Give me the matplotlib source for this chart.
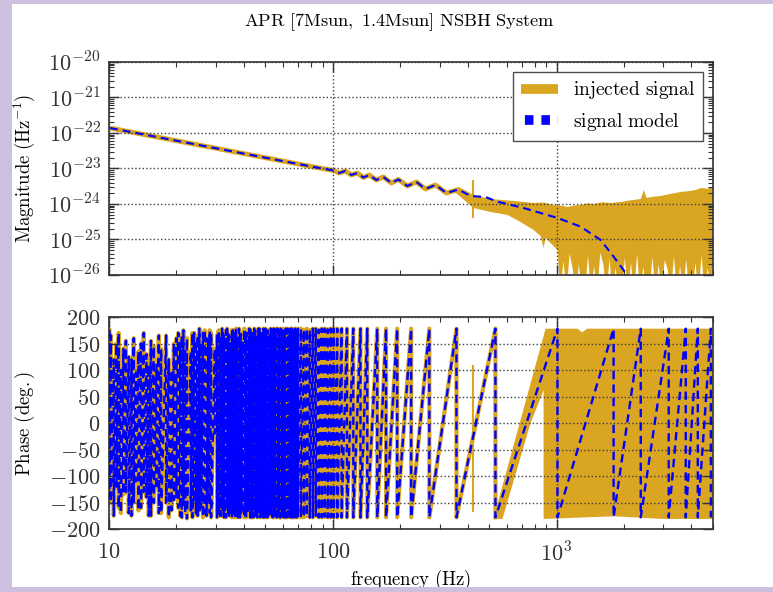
"""APR [7Msun, 1.4Msun] NSBH system: injected signal vs signal model (magnitude + phase)."""

import numpy as np
import matplotlib
matplotlib.use("Agg")
import matplotlib.pyplot as plt
from matplotlib.lines import Line2D
from matplotlib.patches import Rectangle
from matplotlib.ticker import FixedLocator, FuncFormatter, LogLocator, NullFormatter, MultipleLocator

plt.rcParams["mathtext.fontset"] = "cm"

GOLD = "goldenrod"
BLUE = "blue"
LAVENDER = "#cdc0de"

# ---- magnitude, signal model (Hz, 1/Hz)
model_f = [10.1, 80.0, 100.5, 107, 113.7, 121, 128.8, 136.9, 145.6, 156.5, 168.2, 182.7, 196.4,
           215.4, 236.4, 259.4, 287.5, 322, 364.3, 412.3, 481.3, 544.5, 711.8, 1010, 1281, 1574,
           1799, 2035, 2200]
model_mag = [1.38e-22, 1.14e-23, 8.79e-24, 7.46e-24, 8.51e-24, 6.56e-24, 7.46e-24, 5.57e-24, 6.56e-24,
             4.74e-24, 5.77e-24, 3.91e-24, 4.90e-24, 3.21e-24, 4.17e-24, 2.65e-24, 3.43e-24, 2.04e-24,
             2.56e-24, 1.68e-24, 1.57e-24, 1.16e-24, 7.71e-25, 4.04e-25, 2.30e-25, 9.68e-26, 3.27e-26,
             1.14e-26, 5.0e-27]
n_clean = 20  # injected == model up to ~410 Hz

# ---- magnitude, injected noise envelope above ~350 Hz
noise_up_f = [353, 425, 507, 643, 789, 880, 970, 1050, 1120, 1200, 1281, 1380, 1464, 1600, 1744,
              1934, 2100, 2376, 2451, 2527, 2700, 2920, 3200, 3586, 3900, 4188, 4409, 4700, 5000]
noise_up = [2.3e-24, 1.8e-24, 1.38e-24, 1.22e-24, 1.07e-24, 1.1e-24, 9.37e-25, 9.0e-25, 8.23e-25,
            9.0e-25, 9.37e-25, 1.05e-24, 1.0e-24, 1.12e-24, 1.07e-24, 1.14e-24, 1.25e-24, 1.38e-24,
            2.48e-24, 1.48e-24, 1.6e-24, 1.68e-24, 1.9e-24, 2.18e-24, 2.3e-24, 2.48e-24, 2.82e-24,
            2.7e-24, 3.01e-24]
noise_lo_f = [353, 425, 507, 604, 690, 789, 848, 875, 893, 959, 1010,
              1040, 1073, 1108, 1143, 1180, 1218, 1257, 1297, 1339, 1382, 1426, 1472, 1519, 1568,
              1618, 1670, 1724, 1779, 1836, 1895, 1956, 2019, 2083, 2150, 2219, 2290, 2364, 2439,
              2518, 2598, 2682, 2768, 2857, 2948, 3043, 3140, 3241, 3345, 3452, 3563, 3677, 3795,
              3917, 4042, 4172, 4306, 4444, 4586, 4733, 4885, 5000]
noise_lo = [2.1e-24, 7.71e-25, 5.95e-25, 4.90e-25, 3.11e-25, 1.85e-25, 1.26e-25, 5.77e-26, 1.10e-25,
            7.0e-26, 5.06e-26,
            3e-27, 2.5e-26, 3e-27, 4.0e-26, 1.5e-26, 3e-27, 2.0e-26, 3e-27, 3e-27, 3.5e-26, 3e-27,
            1.8e-26, 3e-27, 4.2e-26, 2.0e-26, 3e-27, 2.8e-26, 3e-27, 1.6e-26, 3e-27, 3e-27, 3.0e-26,
            3e-27, 2.2e-26, 3e-27, 4.0e-26, 3e-27, 1.7e-26, 3e-27, 3e-27, 3.2e-26, 3e-27, 2.0e-26,
            3e-27, 2.6e-26, 1.4e-26, 3e-27, 3.4e-26, 3e-27, 1.8e-26, 3e-27, 2.8e-26, 3e-27, 3e-27,
            2.2e-26, 3e-27, 3.6e-26, 3e-27, 1.6e-26, 3e-27, 2.5e-26]
spike_f = 421
spike_mag = [4.5e-24, 4.3e-25]
spike_phase = [107, -166]

# ---- phase, signal model: wrap frequencies (Hz) and the top/bottom value reached there (deg)
wrap_f_a = [10.05, 10.2, 10.5, 10.8, 11.05, 11.3, 11.6, 11.9, 12.25, 12.6, 12.9, 13.2, 13.55, 13.9,
            14.3, 14.7, 15.05, 15.4, 15.85, 16.3, 16.7, 17.1, 18.0, 18.5, 19.0, 19.5, 20.0]
top_a = [175, 165, 120, 150, 170, 100, 140, 155, 125, 120, 160, 95, 135, 150,
         170, 130, 110, 155, 145, 110, 165, 140, 165, 120, 100, 150, 160]
bot_a = [-140, -150, -175, -120, -160, -170, -135, -130, -170, -175, -150, -110, -165, -160,
         -130, -140, -175, -175, -150, -125, -170, -170, -150, -178, -165, -145, -140]

wrap_f_b = [20.4, 20.8, 21.15, 21.5, 21.9, 22.3, 23.2, 23.6, 24.0, 24.45, 24.9, 25.35, 25.8, 26.3,
            26.8, 27.3, 27.8, 28.2, 28.6]
top_b = [170, 150, 165, 175, 140, 160, 135, 170, 170, 155, 165, 178, 150, 170, 175, 160, 160, 175, 170]
bot_b = [-160, -175, -178, -155, -170, -180, -165, -178, -150, -170, -175, -165, -160, -178, -170,
         -175, -150, -170, -178]

wrap_f_c = [29.7, 30.4, 30.7, 31.0, 31.35, 31.7, 32.0, 32.3, 32.65, 33.0,
            33.35, 33.7, 34.05, 34.4, 34.75, 35.1, 35.45, 35.8, 36.2, 36.6,
            36.95, 37.3, 37.7, 38.1, 38.5, 38.9, 39.35, 39.8, 40.2, 40.6,
            41.0, 41.4, 41.85, 42.3, 42.75, 43.2, 43.65, 44.1, 44.55, 45.0,
            45.5, 46.0, 46.5, 47.0, 47.5, 48.0, 48.5, 49.0, 49.5, 50.0,
            50.55, 51.1, 51.65, 52.2, 52.75, 53.3, 53.85, 54.4, 54.95, 55.5,
            56.1, 56.7, 57.3, 57.9, 58.5, 59.1, 59.75, 60.4, 61.0, 61.6,
            62.25, 62.9, 63.55, 64.2, 64.9, 65.6, 66.3, 67.0, 67.7, 68.4,
            69.1, 69.8]
top_c = [140, 165, 172, 175, 160, 155, 178, 170, 165, 160,
         175, 178, 168, 165, 150, 150, 176, 175, 170, 170,
         178, 160, 165, 178, 172, 168, 150, 155, 178, 175,
         168, 170, 160, 178, 176, 165, 170, 172, 178, 175,
         165, 168, 178, 178, 170, 172, 160, 178, 175, 178,
         170, 175, 165, 165, 178, 176, 170, 178, 172, 175,
         178, 178, 170, 172, 178, 176, 178, 170, 175, 178,
         175, 178, 170, 176, 178, 178, 175, 170, 178, 178,
         172, 178]
bot_c = [-20, -178, -170, -165, -175, -175, -160, -170, -178, -170,
         -178, -160, -172, -175, -168, -170, -178, -165, -175, -178,
         -165, -175, -178, -172, -178, -170, -160, -165, -178, -175,
         -178, -172, -165, -170, -178, -178, -165, -178, -176, -170,
         -175, -178, -165, -168, -178, -175, -170, -178, -175, -178,
         -176, -178, -172, -176, -165, -170, -178, -176, -178, -175,
         -178, -170, -172, -178, -178, -175, -176, -178, -170, -178,
         -178, -176, -175, -178, -170, -178, -178, -175, -178, -176,
         -178, -176]

wrap_f_d = [72.0, 74.2, 76.5, 78.9, 81.4, 83.9, 86.5, 89.2, 92.0, 94.9, 97.9, 100.9]
top_d = [178, 176, 178, 175, 178, 178, 176, 178, 178, 177, 178, 178]
bot_d = [-178, -178, -176, -178, -178, -175, -178, -178, -177, -178, -178, -178]

wrap_f_e = [104.7, 109.5, 115.7, 123.5, 133.0, 142.6, 158.0, 173.0, 194.0, 224.0, 270.0, 357.0,
            533.0, 1009.0, 1798.0, 2377.0, 3170.0, 3777.0, 4275.0, 4890.0]
top_e = [178, 178, 178, 178, 178, 178, 178, 178, 178, 178, 178, 178, 178, 178, 178, 178, 178, 178,
         178, 178]
bot_e = [-178, -178, -178, -178, -178, -178, -178, -178, -178, -178, -178, -178, -178, -178, -178,
         -178, -178, -178, -178, -178]
inj_wrap_last = 533.0  # injected phase follows the model up to this wrap

# ---- phase, injected noise region (outline)
phase_noise_f = [522, 893, 1240, 1300, 1370, 2600, 5000, 5000, 3000, 1800, 875, 875, 765, 573]
phase_noise = [-181, 178, 178, 171, 178, 178, 178, -181, -181, -176, -181, 62, 0, -181]


def sawtooth(fw, top, bot):
    xs, ys = [], []
    for f, t, b in zip(fw, top, bot):
        xs += [f, f]
        ys += [t, b]
    return xs, ys


wrap_f = wrap_f_a + wrap_f_b + wrap_f_c + wrap_f_d + wrap_f_e
wrap_top = top_a + top_b + top_c + top_d + top_e
wrap_bot = bot_a + bot_b + bot_c + bot_d + bot_e

fig = plt.figure(figsize=(7.73, 5.92), dpi=100, facecolor=LAVENDER)
fig.patches.append(Rectangle((12 / 773, 5 / 592), 1, 583 / 592, transform=fig.transFigure,
                             facecolor="white", edgecolor="none", zorder=-10))
# screenshot border cuts the bottom of the x label, as in the source
fig.patches.append(Rectangle((0, 0), 1, 5 / 592, transform=fig.transFigure,
                             facecolor=LAVENDER, edgecolor="none", zorder=10))

ax1 = fig.add_axes([0.1410, 0.5355, 0.7814, 0.3598])
ax2 = fig.add_axes([0.1410, 0.1064, 0.7814, 0.3581])

# magnitude panel
ax1.plot(model_f[:n_clean], model_mag[:n_clean], color=GOLD, lw=3.5, solid_capstyle="butt", zorder=2)
ax1.fill(noise_up_f + noise_lo_f[::-1], noise_up + noise_lo[::-1], color=GOLD, lw=0, zorder=2)
ax1.plot([spike_f, spike_f], spike_mag, color=GOLD, lw=1.5, zorder=2)
ax1.plot(model_f, model_mag, color=BLUE, lw=1.5, dashes=(3.8, 2.4), zorder=3)

# phase panel
px, py = sawtooth(wrap_f, wrap_top, wrap_bot)
k = wrap_f.index(inj_wrap_last)
ax2.plot(px[:2 * k + 2], py[:2 * k + 2], color=GOLD, lw=3.0, zorder=2)
ax2.fill(phase_noise_f, phase_noise, color=GOLD, lw=0, zorder=2)
ax2.plot([spike_f, spike_f], spike_phase, color=GOLD, lw=1.5, zorder=2)
ax2.plot(px, py, color=BLUE, lw=1.7, dashes=(3.5, 2.2), zorder=3)

for ax in (ax1, ax2):
    ax.set_facecolor("white")
    ax.set_xscale("log")
    ax.set_xlim(10, 5000)
    ax.tick_params(which="both", direction="in", top=True, right=True, colors="0.2")
    ax.tick_params(which="major", length=7, width=1, labelsize=16, pad=6)
    ax.tick_params(which="minor", length=3.5, width=0.8)
    ax.grid(True, which="major", linestyle=":", color="0.25", linewidth=1.0)
    ax.set_axisbelow(False)
    for s in ax.spines.values():
        s.set_linewidth(1.3)
        s.set_color("0.25")
    ax.yaxis.set_label_coords(-0.119, 0.5)

ax1.set_yscale("log")
ax1.set_ylim(1e-26, 1e-20)
ax1.yaxis.set_major_locator(LogLocator(base=10, numticks=10))
ax1.yaxis.set_minor_locator(LogLocator(base=10, subs=np.arange(2, 10), numticks=20))
ax1.yaxis.set_major_formatter(FuncFormatter(lambda v, p: r"$10^{%d}$" % round(np.log10(v))))
ax1.yaxis.set_minor_formatter(NullFormatter())
ax1.xaxis.set_major_formatter(NullFormatter())
ax1.xaxis.set_minor_formatter(NullFormatter())
ax1.set_ylabel(r"$\mathrm{Magnitude\ (Hz^{-1})}$", fontsize=13.5)

ax2.set_ylim(-200, 200)
ax2.yaxis.set_major_locator(MultipleLocator(50))
ax2.yaxis.set_major_formatter(FuncFormatter(lambda v, p: r"$%d$" % v))
xlab = {10: r"$10$", 100: r"$100$", 1000: r"$10^3$"}
ax2.xaxis.set_major_locator(FixedLocator([10, 100, 1000]))
ax2.xaxis.set_major_formatter(FuncFormatter(lambda v, p: xlab.get(int(round(v)), "")))
ax2.xaxis.set_minor_formatter(NullFormatter())
ax2.tick_params(axis="x", which="major", pad=9)
ax2.set_ylabel(r"$\mathrm{Phase\ (deg.)}$", fontsize=13.5)
ax2.set_xlabel(r"$\mathrm{frequency\ (Hz)}$", fontsize=13.5)
ax2.xaxis.set_label_coords(0.5, -0.182)

handles = [Line2D([], [], color=GOLD, lw=7, solid_capstyle="butt"),
           Line2D([], [], color=BLUE, lw=7, linestyle=(1.29, (0.875, 0.82)), dash_capstyle="butt")]
leg = ax1.legend(handles, [r"$\mathrm{injected\ signal}$", r"$\mathrm{signal\ model}$"],
                 loc="upper right", fontsize=14, fancybox=False, framealpha=1,
                 edgecolor="0.3", borderaxespad=0.5, handlelength=1.9)
leg.get_frame().set_linewidth(1.0)

fig.text(0.517, 1 - 22 / 592, r"$\mathrm{APR\ [7Msun,\ 1.4Msun]\ NSBH\ System}$",
         ha="center", va="center", fontsize=13.2)

fig.savefig("out.png", dpi=100, facecolor=fig.get_facecolor())
